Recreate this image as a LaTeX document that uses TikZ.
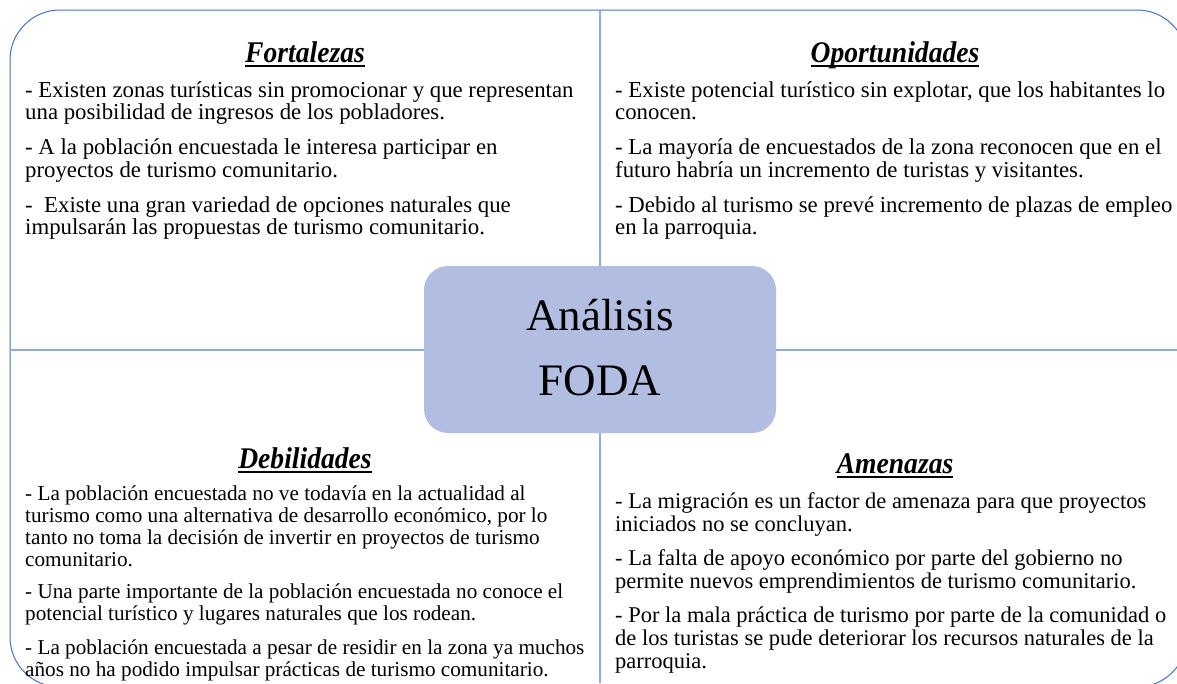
\documentclass[tikz,border=0pt]{standalone}
\usepackage{fontspec}
\setmainfont{Liberation Serif}
\newfontfamily\ttlfont{Liberation Serif}[FakeStretch=0.92]
\newcommand\myul[1]{\setbox0\hbox{#1}\rlap{\copy0}\raisebox{-5pt}{\rule{\wd0}{1.6pt}}}
\definecolor{frameblue}{RGB}{68,114,196}
\definecolor{crossblue}{RGB}{143,170,220}
\definecolor{boxfill}{RGB}{178,190,225}
\tikzset{
  ttl/.style={anchor=base, inner sep=0pt, font=\ttlfont\fontsize{30}{32}\selectfont\bfseries\itshape},
  para/.style={anchor=base west, inner sep=0pt, align=left, font=\fontsize{22.8}{22.7}\selectfont},
  parasm/.style={anchor=base west, inner sep=0pt, align=left, font=\fontsize{21.2}{21.7}\selectfont},
  parame/.style={anchor=base west, inner sep=0pt, align=left, font=\fontsize{22.5}{22.8}\selectfont},
}
\begin{document}
\begin{tikzpicture}[x=1pt,y=-1pt]
\useasboundingbox (0,0) rectangle (1177,683);
\begin{scope}
\clip (0,0) rectangle (1177,683);
\draw[frameblue, line width=1pt, rounded corners=50pt] (10,10) rectangle (1187,687);
\draw[crossblue, line width=1.6pt] (600,10) -- (600,683);
\draw[crossblue, line width=1.6pt] (10,350) -- (1177,350);
\end{scope}
\node[fill=boxfill, rounded corners=24pt, minimum width=352pt, minimum height=167pt, inner sep=0pt] (foda) at (600,349.5) {};
\node[font=\fontsize{45}{65}\selectfont, align=center, inner sep=0pt] (fodatxt) at (600,348) {Análisis\\FODA};

\node[ttl] (tF) at (305,62) {\myul{Fortalezas}};
\node[ttl] (tO) at (895,62) {\myul{Oportunidades}};
\node[ttl] (tD) at (305,468) {\myul{Debilidades}};
\node[ttl] (tA) at (895,473) {\myul{Amenazas}};

\node[para] (f1) at (25,119.7) {- Existen zonas turísticas sin promocionar y que representan\\una posibilidad de ingresos de los pobladores.};
\node[para] (f2) at (25,177.2) {- A la población encuestada le interesa participar en\\proyectos de turismo comunitario.};
\node[para] (f3) at (25,234.7) {-~ Existe una gran variedad de opciones naturales que\\impulsarán las propuestas de turismo comunitario.};

\node[para] (o1) at (615,119.7) {- Existe potencial turístico sin explotar, que los habitantes lo\\conocen.};
\node[para] (o2) at (615,177.2) {- La mayoría de encuestados de la zona reconocen que en el\\futuro habría un incremento de turistas y visitantes.};
\node[para] (o3) at (615,234.7) {- Debido al turismo se prevé incremento de plazas de empleo\\en la parroquia.};

\node[parasm] (d1) at (25,566) {- La población encuestada no ve todavía en la actualidad al\\turismo como una alternativa de desarrollo económico, por lo\\tanto no toma la decisión de invertir en proyectos de turismo\\comunitario.};
\node[parasm] (d2) at (25,620.5) {- Una parte importante de la población encuestada no conoce el\\potencial turístico y lugares naturales que los rodean.};
\node[parasm] (d3) at (25,676) {- La población encuestada a pesar de residir en la zona ya muchos\\años no ha podido impulsar prácticas de turismo comunitario.};

\node[parame] (a1) at (615,531) {- La migración es un factor de amenaza para que proyectos\\iniciados no se concluyan.};
\node[parame] (a2) at (615,588) {- La falta de apoyo económico por parte del gobierno no\\permite nuevos emprendimientos de turismo comunitario.};
\node[parame] (a3) at (615,668.5) {- Por la mala práctica de turismo por parte de la comunidad o\\de los turistas se pude deteriorar los recursos naturales de la\\parroquia.};
\end{tikzpicture}
\end{document}
